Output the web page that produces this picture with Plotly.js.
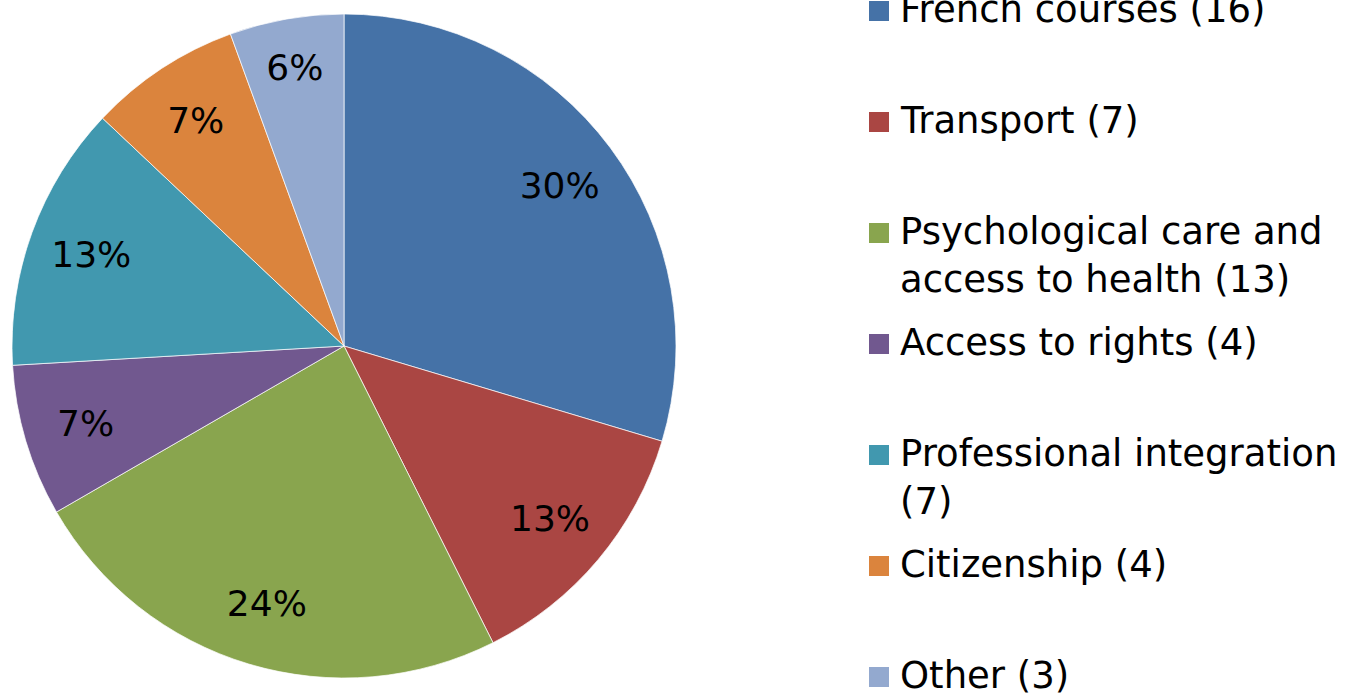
<!DOCTYPE html>
<html>
<head>
<meta charset="utf-8">
<script src="https://cdn.plot.ly/plotly-3.0.1.min.js"></script>
<style>html,body{margin:0;padding:0;background:#fff;}#chart{width:1346px;height:698px;}</style>
</head>
<body>
<div id="chart"></div>
<script>
var categories = ["French courses (16)", "Transport (7)", "Psychological care and<br>access to health (13)", "Access to rights (4)", "Professional integration<br>(7)", "Citizenship (4)", "Other (3)"];
var values = [16, 7, 13, 4, 7, 4, 3];
var colors = ["#4572A7", "#AA4643", "#89A54E", "#71588F", "#4198AF", "#DB843D", "#93A9CF"];

var W = 1346, H = 698;
var FONT = "DejaVu Sans, Verdana, sans-serif";
var FS = 37;

// pie geometry (pixels)
var cx = 344, cy = 346, R = 332;
var dom = {x: [(cx - R) / W, (cx + R) / W], y: [(H - cy - R) / H, (H - cy + R) / H]};

var pie = {
  type: "pie",
  labels: categories,
  values: values,
  marker: {colors: colors, line: {color: "rgba(255,255,255,0.7)", width: 1}},
  sort: false,
  direction: "clockwise",
  rotation: 0,
  textinfo: "none",
  showlegend: false,
  hoverinfo: "label+value+percent",
  domain: dom
};

// transparent ring carrying the percentage labels near the rim
var labelsRing = {
  type: "pie",
  labels: categories,
  values: values,
  hole: 0.62,
  marker: {colors: values.map(function () { return "rgba(0,0,0,0)"; }), line: {width: 0}},
  sort: false,
  direction: "clockwise",
  rotation: 0,
  texttemplate: "%{percent:.0%}",
  textposition: "inside",
  insidetextorientation: "horizontal",
  textfont: {family: FONT, size: FS - 1, color: "#000"},
  showlegend: false,
  hoverinfo: "skip",
  domain: dom
};

// manual legend (evenly spaced items, first line aligned to square)
var legX = 869, sq = 20, textX = 898, firstC = 11, step = 111;
var shapes = [], annotations = [];
for (var i = 0; i < categories.length; i++) {
  var c = firstC + i * step;
  shapes.push({
    type: "rect", xref: "paper", yref: "paper",
    x0: legX / W, x1: (legX + sq) / W,
    y0: 1 - (c + sq / 2) / H, y1: 1 - (c - sq / 2) / H,
    fillcolor: colors[i], line: {width: 0}
  });
  annotations.push({
    xref: "paper", yref: "paper",
    x: textX / W, y: 1 - (c - FS * 0.65 - 1) / H,
    xanchor: "left", yanchor: "top", align: "left",
    text: categories[i], showarrow: false,
    font: {family: FONT, size: FS, color: "#000"}
  });
}

var layout = {
  width: W, height: H,
  margin: {l: 0, r: 0, t: 0, b: 0},
  paper_bgcolor: "#fff",
  showlegend: false,
  shapes: shapes,
  annotations: annotations
};

Plotly.newPlot("chart", [pie, labelsRing], layout, {displayModeBar: false, staticPlot: true});
</script>
</body>
</html>
